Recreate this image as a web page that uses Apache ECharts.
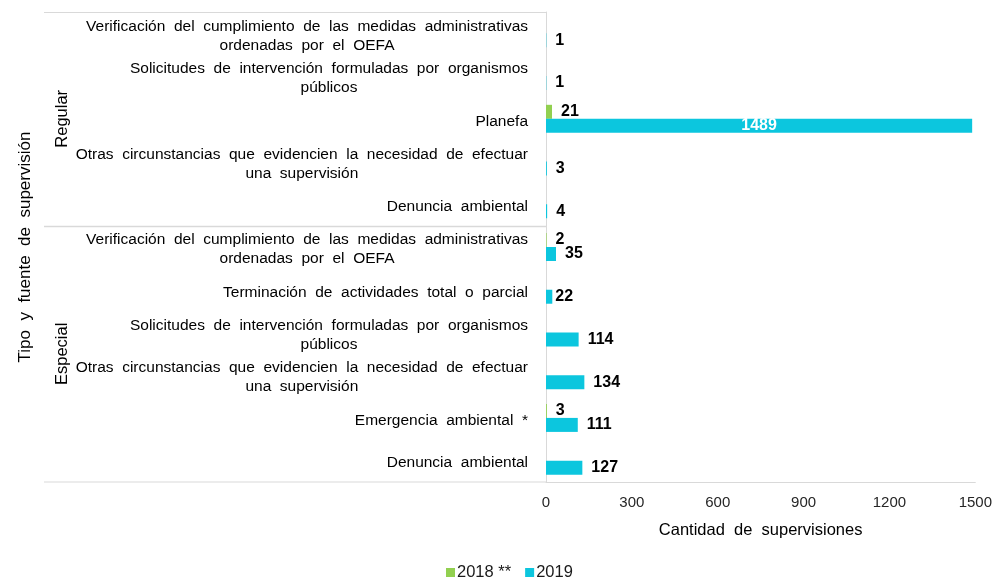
<!DOCTYPE html>
<html>
<head>
<meta charset="utf-8">
<script src="https://cdn.jsdelivr.net/npm/echarts@6/dist/echarts.min.js"></script>
<style>html,body{margin:0;padding:0;background:#fff}#c{width:995px;height:582px}</style>
</head>
<body>
<div id="c"></div>
<script>
// Categories, top to bottom
const categories = [
  "Verificación del cumplimiento de las medidas administrativas\nordenadas por el OEFA",
  "Solicitudes de intervención formuladas por organismos\npúblicos",
  "Planefa",
  "Otras circunstancias que evidencien la necesidad de efectuar\nuna supervisión",
  "Denuncia ambiental",
  "Verificación del cumplimiento de las medidas administrativas\nordenadas por el OEFA",
  "Terminación de actividades total o parcial",
  "Solicitudes de intervención formuladas por organismos\npúblicos",
  "Otras circunstancias que evidencien la necesidad de efectuar\nuna supervisión",
  "Emergencia ambiental *",
  "Denuncia ambiental"
];
const groups = ["Regular", "Especial"];
const groupSizes = [5, 6];
const seriesNames = ["2018 **", "2019"];
const values2018 = [null, null, 21, null, null, 2, null, null, null, 3, null];
const values2019 = [1, 1, 1489, 3, 4, 35, 22, 114, 134, 111, 127];
const xTicks = [0, 300, 600, 900, 1200, 1500];

const FONT = "'Liberation Sans', Arial, sans-serif";
const GREEN = "#92D050";
const CYAN = "#0CC6DE";
const LINE = "#D9D9D9";
const wide = s => s.replace(/ /g, '  ');

const chart = echarts.init(document.getElementById('c'), null, {renderer: 'canvas'});

function buildData(vals, tightIdx) {
  return vals.map((v, i) => {
    if (v == null) return null;
    if (v > 1000) return {value: v, label: {position: 'inside', color: '#fff'}};
    if (i === tightIdx) return {value: v, label: {distance: 3}};
    return {value: v};
  });
}

const labelStyle = {show: true, position: 'right', distance: 9, fontFamily: FONT, fontSize: 16, fontWeight: 'bold', color: '#000'};

const option = {
  animation: false,
  textStyle: {fontFamily: FONT},
  grid: {left: 546, right: 19, top: 12, bottom: 100, containLabel: false},
  legend: {
    data: seriesNames,
    left: 441, top: 559,
    icon: 'rect', itemWidth: 9, itemHeight: 9, itemGap: 14,
    textStyle: {fontFamily: FONT, fontSize: 16.5, color: '#1a1a1a', padding: [0, 0, 0, -3]}
  },
  xAxis: {
    type: 'value', min: xTicks[0], max: xTicks[xTicks.length - 1], interval: 300,
    axisLine: {show: true, lineStyle: {color: LINE, width: 1}},
    axisTick: {show: false},
    splitLine: {show: false},
    axisLabel: {fontFamily: FONT, fontSize: 15, color: '#262626', margin: 13, formatter: v => String(v)},
    name: wide('Cantidad de supervisiones'), nameLocation: 'middle', nameGap: 40,
    nameTextStyle: {fontFamily: FONT, fontSize: 16.5, color: '#000'}
  },
  yAxis: {
    type: 'category', inverse: true, data: categories,
    axisLine: {show: true, lineStyle: {color: LINE, width: 1}},
    axisTick: {show: false},
    axisLabel: {
      margin: 18, align: 'right', padding: [5, 0, 0, 0],
      formatter: (v) => v.split('\n').map(s => '{c|' + wide(s) + '}').join('\n'),
      rich: {c: {align: 'center', fontFamily: FONT, fontSize: 15.5, color: '#000', lineHeight: 19}}
    },
    name: wide('Tipo y fuente de supervisión'), nameLocation: 'middle', nameGap: 512, nameRotate: 90,
    nameTextStyle: {fontFamily: FONT, fontSize: 17, color: '#000'}
  },
  series: [
    {
      name: seriesNames[0], type: 'bar', data: buildData(values2018, -1),
      itemStyle: {color: GREEN}, barWidth: 14, barGap: '0%',
      label: labelStyle
    },
    {
      name: seriesNames[1], type: 'bar', data: buildData(values2019, 6),
      itemStyle: {color: CYAN}, barWidth: 14, barGap: '0%',
      label: labelStyle
    }
  ]
};
chart.setOption(option);

// Group labels and separators, positioned from the axis scale
const yOf = i => chart.convertToPixel({yAxisIndex: 0}, i);
const step = yOf(1) - yOf(0);
const gridTop = yOf(0) - step / 2;
const gridBottom = yOf(categories.length - 1) + step / 2;
const axisX = chart.convertToPixel({xAxisIndex: 0}, 0);
const leftX = 44;
const gfx = [];
let startIdx = 0;
gfx.push({type: 'line', shape: {x1: leftX, y1: gridTop + 0.5, x2: axisX, y2: gridTop + 0.5}, style: {stroke: LINE, lineWidth: 1}});
groups.forEach((g, gi) => {
  const endIdx = startIdx + groupSizes[gi];
  const y0 = yOf(startIdx) - step / 2;
  const y1 = yOf(endIdx - 1) + step / 2;
  gfx.push({
    type: 'text', x: 62, y: (y0 + y1) / 2, rotation: Math.PI / 2,
    style: {text: g, fontFamily: FONT, fontSize: 16.5, fill: '#000', align: 'center', verticalAlign: 'middle'}
  });
  if (gi < groups.length - 1) {
    gfx.push({type: 'line', shape: {x1: leftX, y1: Math.round(y1) + 0.5, x2: axisX, y2: Math.round(y1) + 0.5}, style: {stroke: LINE, lineWidth: 1.5}});
  }
  startIdx = endIdx;
});
gfx.push({type: 'line', shape: {x1: leftX, y1: gridBottom, x2: axisX, y2: gridBottom}, style: {stroke: LINE, lineWidth: 1}});
chart.setOption({graphic: gfx});
</script>
</body>
</html>
